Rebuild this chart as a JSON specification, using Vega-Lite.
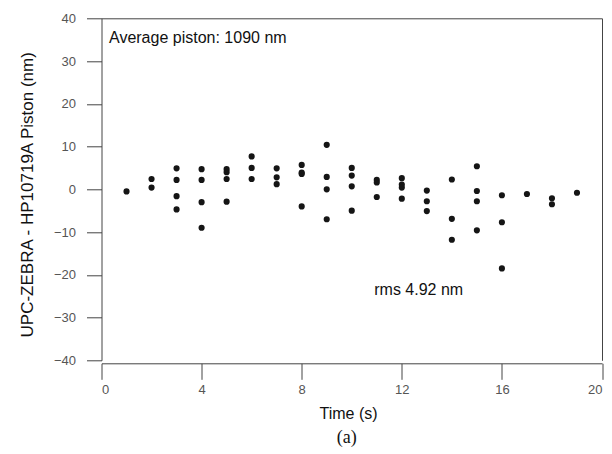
{
  "$schema": "https://vega.github.io/schema/vega-lite/v6.json",
  "width": 500.5,
  "height": 342,
  "autosize": "none",
  "padding": {"left": 101.5, "top": 18.3, "right": 10, "bottom": 93.7},
  "background": "white",
  "config": {"view": {"stroke": null}, "font": "Liberation Sans"},
  "title": {"text": "(a)", "orient": "bottom", "anchor": "middle", "font": "Liberation Serif", "fontSize": 18, "fontWeight": "normal", "color": "#111", "offset": 8, "dx": -5},
  "resolve": {"axis": {"x": "independent", "y": "independent"}},
  "layer": [
    {
      "data": {"values": [
        {"t": 1, "p": -0.5},
        {"t": 2, "p": 2.4}, {"t": 2, "p": 0.4},
        {"t": 3, "p": 4.9}, {"t": 3, "p": 2.2}, {"t": 3, "p": -1.6}, {"t": 3, "p": -4.7},
        {"t": 4, "p": 4.7}, {"t": 4, "p": 2.2}, {"t": 4, "p": -3.0}, {"t": 4, "p": -9.0},
        {"t": 5, "p": 4.7}, {"t": 5, "p": 4.0}, {"t": 5, "p": 2.4}, {"t": 5, "p": -2.9},
        {"t": 6, "p": 7.7}, {"t": 6, "p": 5.0}, {"t": 6, "p": 2.4},
        {"t": 7, "p": 4.9}, {"t": 7, "p": 2.8}, {"t": 7, "p": 1.2},
        {"t": 8, "p": 5.7}, {"t": 8, "p": 3.9}, {"t": 8, "p": 3.6}, {"t": 8, "p": -4.0},
        {"t": 9, "p": 10.4}, {"t": 9, "p": 2.9}, {"t": 9, "p": 0.0}, {"t": 9, "p": -7.0},
        {"t": 10, "p": 5.0}, {"t": 10, "p": 3.2}, {"t": 10, "p": 0.7}, {"t": 10, "p": -5.0},
        {"t": 11, "p": 2.2}, {"t": 11, "p": 1.6}, {"t": 11, "p": -1.8},
        {"t": 12, "p": 2.6}, {"t": 12, "p": 1.1}, {"t": 12, "p": 0.4}, {"t": 12, "p": -2.2},
        {"t": 13, "p": -0.3}, {"t": 13, "p": -2.8}, {"t": 13, "p": -5.1},
        {"t": 14, "p": 2.3}, {"t": 14, "p": -6.9}, {"t": 14, "p": -11.8},
        {"t": 15, "p": 5.4}, {"t": 15, "p": -0.4}, {"t": 15, "p": -2.8}, {"t": 15, "p": -9.6},
        {"t": 16, "p": -1.4}, {"t": 16, "p": -7.7}, {"t": 16, "p": -18.5},
        {"t": 17, "p": -1.1},
        {"t": 18, "p": -2.1}, {"t": 18, "p": -3.5},
        {"t": 19, "p": -0.8}
      ]},
      "mark": {"type": "circle", "size": 38, "color": "#151515", "opacity": 1},
      "encoding": {
        "x": {"field": "t", "type": "quantitative",
          "scale": {"domain": [0, 20], "nice": false, "zero": false},
          "axis": {"title": "Time (s)", "values": [0, 4, 8, 12, 16, 20], "offset": 3, "grid": false,
            "domainColor": "#444", "tickColor": "#444", "tickSize": 16, "labelPadding": 4,
            "labelFontSize": 13, "labelColor": "#555", "labelFont": "Liberation Sans",
            "titleFontSize": 16, "titleFontWeight": "normal", "titleColor": "#111", "titleFont": "Liberation Sans",
            "titleX": 246.5, "titleY": 50, "titleBaseline": "middle", "titleAnchor": "middle"}},
        "y": {"field": "p", "type": "quantitative",
          "scale": {"domain": [-40, 40], "nice": false, "zero": false},
          "axis": {"title": "UPC-ZEBRA - HP10719A Piston (nm)", "values": [-40, -30, -20, -10, 0, 10, 20, 30, 40], "grid": false,
            "domainColor": "#444", "tickColor": "#444", "tickSize": 15, "labelPadding": 11,
            "labelFontSize": 13, "labelColor": "#555", "labelFont": "Liberation Sans",
            "titleFontSize": 17, "titleFontWeight": "normal", "titleColor": "#111", "titleFont": "Liberation Sans",
            "titleX": -74, "titleY": 176, "titleBaseline": "middle", "titleAngle": -90}}
      }
    },
    {
      "data": {"values": [
        {"t": 0.3, "p": 34.3, "label": "Average piston: 1090 nm"},
        {"t": 10.9, "p": -24.8, "label": "rms 4.92 nm"}
      ]},
      "mark": {"type": "text", "align": "left", "baseline": "alphabetic", "fontSize": 16, "font": "Liberation Sans", "color": "#111"},
      "encoding": {
        "x": {"field": "t", "type": "quantitative",
          "axis": {"orient": "top", "title": null, "labels": false, "ticks": false, "grid": false, "domainColor": "#444"}},
        "y": {"field": "p", "type": "quantitative",
          "axis": {"orient": "right", "title": null, "labels": false, "ticks": false, "grid": false, "domainColor": "#444"}},
        "text": {"field": "label"}
      }
    }
  ]
}
